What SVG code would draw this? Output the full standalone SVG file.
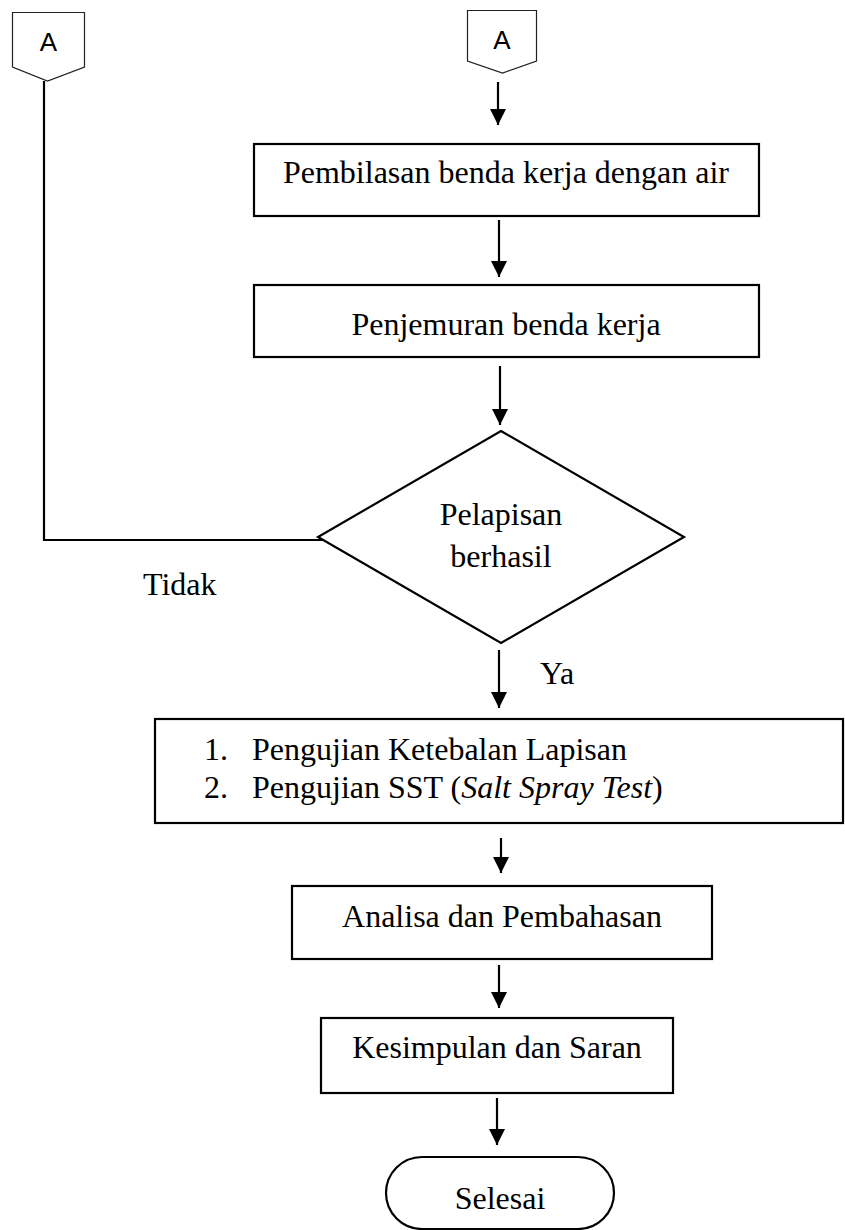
<svg xmlns="http://www.w3.org/2000/svg" width="845" height="1230" viewBox="0 0 845 1230">
<style>
.box{fill:#fff;stroke:#000;stroke-width:2.2}
.conn{fill:#fff;stroke:#222;stroke-width:1.2}
.t{font-family:"Liberation Serif","Times New Roman",serif;font-size:32px;fill:#000}
.s{font-family:"Liberation Sans",Arial,sans-serif;font-size:26px;fill:#000}
.ln{fill:none;stroke:#000;stroke-width:2.2}
</style>
<defs>
<marker id="ah" markerUnits="userSpaceOnUse" markerWidth="16" markerHeight="16" refX="16" refY="8" orient="auto">
<path d="M0,0 L16,8 L0,16 z" fill="#000"/>
</marker>
</defs>
<rect width="845" height="1230" fill="#fff"/>
<g id="connectors">
<polyline class="ln" points="44,81 44,540 333,540" stroke-width="2.6"/>
<line class="ln" x1="498" y1="82" x2="498" y2="125" marker-end="url(#ah)"/>
<line class="ln" x1="499" y1="220" x2="499" y2="277" marker-end="url(#ah)"/>
<line class="ln" x1="500" y1="366" x2="500" y2="425" marker-end="url(#ah)"/>
<line class="ln" x1="499" y1="650" x2="499" y2="708" marker-end="url(#ah)"/>
<line class="ln" x1="501" y1="838" x2="501" y2="873" marker-end="url(#ah)"/>
<line class="ln" x1="499" y1="965" x2="499" y2="1008" marker-end="url(#ah)"/>
<line class="ln" x1="497" y1="1098" x2="497" y2="1145" marker-end="url(#ah)"/>
<text class="t" x="143" y="595">Tidak</text>
<text class="t" x="540" y="684">Ya</text>
</g>
<g id="connA-left">
<polygon class="conn" points="12.5,12.5 84.5,12.5 84.5,67 47.5,81 12.5,67"/>
<text class="s" x="48.5" y="51" text-anchor="middle">A</text>
</g>
<g id="connA-right">
<polygon class="conn" points="467.5,10.5 536.5,10.5 536.5,61 502.5,73 467.5,61"/>
<text class="s" x="502" y="49" text-anchor="middle">A</text>
</g>
<g id="n-pembilasan">
<rect class="box" x="254" y="144" width="505" height="72"/>
<text class="t" x="506" y="183" text-anchor="middle">Pembilasan benda kerja dengan air</text>
</g>
<g id="n-penjemuran">
<rect class="box" x="254" y="285" width="505" height="72"/>
<text class="t" x="506" y="335" text-anchor="middle">Penjemuran benda kerja</text>
</g>
<g id="n-decision">
<polygon class="box" points="501,431 684,537 501,643 318,537"/>
<text class="t" x="501" y="525" text-anchor="middle">Pelapisan</text>
<text class="t" x="501" y="567" text-anchor="middle">berhasil</text>
</g>
<g id="n-pengujian">
<rect class="box" x="155" y="719" width="688" height="104"/>
<text class="t" x="204" y="760">1.</text>
<text class="t" x="252" y="760">Pengujian Ketebalan Lapisan</text>
<text class="t" x="204" y="798">2.</text>
<text class="t" x="252" y="798">Pengujian SST (<tspan font-style="italic">Salt Spray Test</tspan>)</text>
</g>
<g id="n-analisa">
<rect class="box" x="292" y="886" width="420" height="73"/>
<text class="t" x="502" y="927" text-anchor="middle">Analisa dan Pembahasan</text>
</g>
<g id="n-kesimpulan">
<rect class="box" x="321" y="1018" width="352" height="75"/>
<text class="t" x="497" y="1058" text-anchor="middle">Kesimpulan dan Saran</text>
</g>
<g id="n-selesai">
<rect class="box" x="386" y="1157" width="228" height="72" rx="36" ry="36"/>
<text class="t" x="500" y="1209" text-anchor="middle">Selesai</text>
</g>
</svg>
